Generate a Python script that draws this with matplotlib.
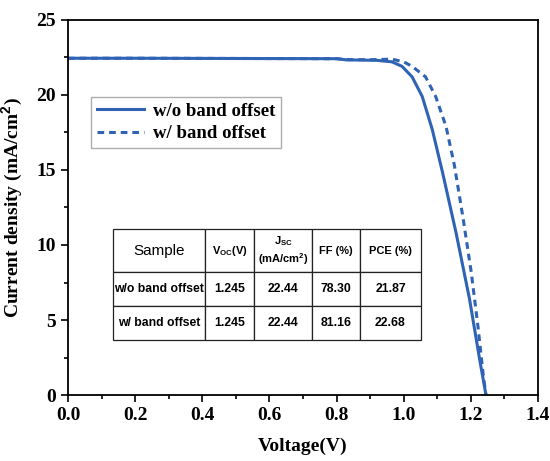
import matplotlib
matplotlib.use('Agg')
import matplotlib.pyplot as plt
from matplotlib.ticker import MultipleLocator

plt.rcParams['mathtext.fontset'] = 'custom'
plt.rcParams['mathtext.rm'] = 'Liberation Sans:bold'
plt.rcParams['mathtext.bf'] = 'Liberation Sans:bold'

# J-V curves
v_wo = [0.0, 0.2, 0.4, 0.6, 0.8, 0.83, 0.87, 0.92, 0.965, 0.995, 1.025, 1.055,
        1.085, 1.116, 1.156, 1.196, 1.226, 1.245]
j_wo = [22.44, 22.44, 22.43, 22.42, 22.41, 22.33, 22.32, 22.30, 22.2, 21.9, 21.2,
        19.9, 17.7, 14.8, 10.8, 6.4, 2.4, 0.0]

v_w = [0.0, 0.2, 0.4, 0.6, 0.8, 0.83, 0.9, 0.965, 1.0, 1.025, 1.065, 1.095, 1.126,
       1.151, 1.176, 1.201, 1.221, 1.236, 1.245]
j_w = [22.44, 22.44, 22.43, 22.42, 22.41, 22.35, 22.34, 22.38, 22.2, 21.9, 21.2,
       19.9, 17.9, 15.3, 11.9, 8.2, 4.6, 1.5, 0.0]

labels = ['w/o band offset', 'w/ band offset']

col_labels = ['Sample', 'V$_{\\mathrm{OC}}$(V)', 'J$_{\\mathrm{SC}}$\n(mA/cm$^2$)',
              'FF (%)', 'PCE (%)']
voc = ['1.245', '1.245']
jsc = ['22.44', '22.44']
ff = ['78.30', '81.16']
pce = ['21.87', '22.68']

blue = '#2f63b3'

fig = plt.figure(figsize=(5.5, 4.61), dpi=100)
ax = fig.add_axes([0.1236, 0.143, 0.8546, 0.814])

ax.plot(v_wo, j_wo, color=blue, lw=2.2, label=labels[0])
ax.plot(v_w, j_w, color=blue, lw=2.2, ls=(0, (2.2, 1.6)), label=labels[1])

ax.set_xlim(0, 1.4)
ax.set_ylim(0, 25)
ax.xaxis.set_minor_locator(MultipleLocator(0.1))
ax.yaxis.set_minor_locator(MultipleLocator(2.5))
ax.tick_params(which='major', direction='out', length=5, width=1.2)
ax.tick_params(which='minor', direction='out', length=3, width=1.2)
for s in ax.spines.values():
    s.set_linewidth(1.3)

serif = 'Liberation Serif'
ax.set_xticks([0.0, 0.2, 0.4, 0.6, 0.8, 1.0, 1.2, 1.4])
ax.set_xticklabels(['0.0', '0.2', '0.4', '0.6', '0.8', '1.0', '1.2', '1.4'],
                   fontfamily=serif, fontweight='bold', fontsize=14)
ax.set_yticks([0, 5, 10, 15, 20, 25])
ax.set_yticklabels(['0', '5', '10', '15', '20', '25'],
                   fontfamily=serif, fontweight='bold', fontsize=14)

ax.set_xlabel('Voltage(V)', fontfamily=serif, fontweight='bold', fontsize=14, labelpad=10)
ax.set_ylabel('Current density (mA/cm$^2$)', fontfamily=serif, fontweight='bold',
              fontsize=14, labelpad=8)

leg = ax.legend(loc='upper left', bbox_to_anchor=(0.049, 0.795), frameon=True,
                fancybox=False, edgecolor='#999999', handlelength=2.5,
                borderpad=0.3, borderaxespad=0, labelspacing=0.3,
                handletextpad=0.5,
                prop={'family': serif, 'weight': 'bold', 'size': 13.5})
leg.get_frame().set_linewidth(1.0)

cells = [[labels[i], voc[i], jsc[i], ff[i], pce[i]] for i in range(2)]
tb = ax.table(cellText=cells, colLabels=col_labels, cellLoc='center',
              bbox=[0.096, 0.147, 0.655, 0.296],
              colWidths=[92, 49, 58, 48, 61])
tb.auto_set_font_size(False)
for (r, c), cell in tb.get_celld().items():
    cell.set_linewidth(0.9)
    cell.set_edgecolor('#222222')
    t = cell.get_text()
    t.set_fontfamily('Liberation Sans')
    if r == 0:
        cell.set_height(0.44)
        if c == 0:
            t.set_fontsize(11)
        else:
            t.set_fontsize(8)
            t.set_fontweight('bold')
    else:
        cell.set_height(0.34)
        t.set_fontsize(8.8)
        t.set_fontweight('bold')

fig.savefig('out.png', dpi=100)
